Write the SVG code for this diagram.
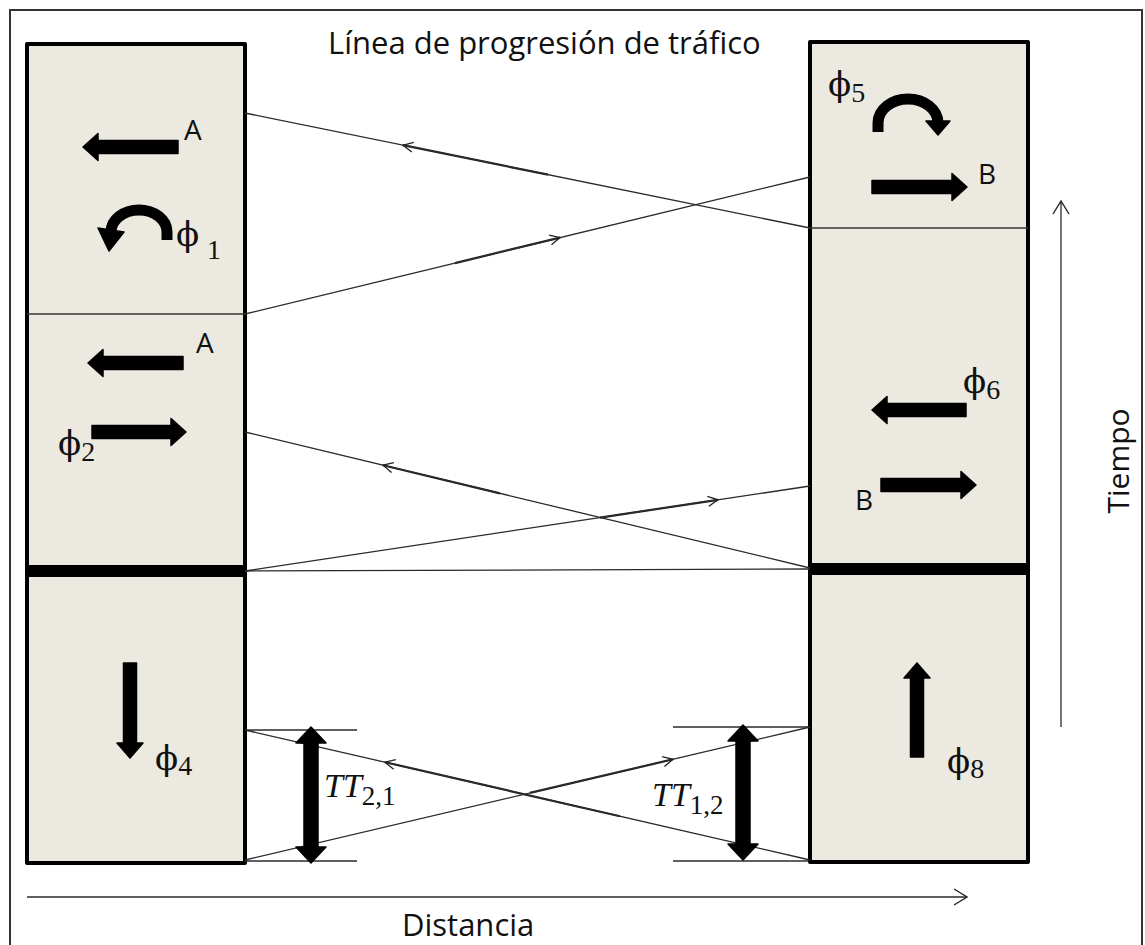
<svg xmlns="http://www.w3.org/2000/svg" width="1145" height="945" viewBox="0 0 1145 945">
  <style>
    .frame { fill: none; stroke: #333; stroke-width: 2; }
    .box { fill: #ECE9E0; stroke: #000; stroke-width: 4; stroke-linejoin: round; }
    .split { stroke: #333; stroke-width: 1.5; }
    .band { stroke: #000; stroke-width: 12; }
    .thin { fill: none; stroke: #2a2a2a; stroke-width: 1.3; }
    .heavy { fill: none; stroke: #2a2a2a; stroke-width: 2.2; }
    .block { fill: #000; stroke: #000; stroke-width: 1.5; stroke-linejoin: round; }
    .turn { fill: none; stroke: #000; stroke-width: 11; }
    .sans { font-family: "Open Sans", "Liberation Sans", sans-serif; fill: #111; }
    .lbl { font-size: 28px; }
    .phi { font-family: "DejaVu Serif", "Liberation Serif", serif; font-size: 34px; fill: #111; }
    .sub { font-family: "Liberation Serif", "DejaVu Serif", serif; font-size: 28px; }
    .tt { font-family: "Liberation Serif", serif; font-style: italic; font-size: 34px; fill: #111; }
    .ttsub { font-style: normal; font-size: 27px; }
  </style>
  <defs>
    <marker id="chev" viewBox="0 0 12 12" refX="11" refY="6" markerWidth="12" markerHeight="12" markerUnits="userSpaceOnUse" orient="auto">
      <path d="M1,1 L11,6 L1,11" fill="none" stroke="#222" stroke-width="1.3"/>
    </marker>
    <marker id="open" viewBox="0 0 16 18" refX="15" refY="9" markerWidth="16" markerHeight="18" markerUnits="userSpaceOnUse" orient="auto">
      <path d="M2,1 L15,9 L2,17" fill="none" stroke="#222" stroke-width="1.4"/>
    </marker>
  </defs>

  <!-- outer frame -->
  <rect class="frame" x="10" y="10" width="1132" height="950"/>

  <!-- title -->
  <text class="sans" x="328" y="54" font-size="31">Línea de progresión de tráfico</text>

  <!-- signal 1 (left) -->
  <g id="signal-1">
    <rect class="box" x="27" y="44" width="218" height="527"/>
    <rect class="box" x="27" y="571" width="218" height="292"/>
    <line class="split" x1="27" y1="314" x2="245" y2="314"/>
    <line class="band" x1="25" y1="571" x2="247" y2="571"/>
  </g>

  <g id="phase-1">
    <path class="block" d="M178,140.5 H98 V133.5 L83,147 L98,160.5 V153.5 H178 Z"/>
    <text class="sans lbl" x="184" y="140">A</text>
    <path class="turn" d="M167,240 L167,232 A28,22 0 0 0 111,232"/>
    <path class="block" d="M98,228 L124,232 L109,251 Z"/>
    <text class="phi" x="176" y="246">ϕ<tspan class="sub" x="207" y="259">1</tspan></text>
  </g>

  <g id="phase-2">
    <path class="block" d="M183,356.5 H103 V349.5 L88,363 L103,376.5 V369.5 H183 Z"/>
    <text class="sans lbl" x="196" y="353">A</text>
    <path class="block" d="M92,425.5 H171 V418.5 L186,432 L171,445.5 V438.5 H92 Z"/>
    <text class="phi" x="58" y="455">ϕ<tspan class="sub" y="461">2</tspan></text>
  </g>

  <g id="phase-4">
    <path class="block" d="M123.5,663 V743 H117 L130,758 L143,743 H136.5 V663 Z"/>
    <text class="phi" x="155" y="770">ϕ<tspan class="sub" y="775">4</tspan></text>
  </g>

  <!-- signal 2 (right) -->
  <g id="signal-2">
    <rect class="box" x="810" y="42" width="218" height="527"/>
    <rect class="box" x="810" y="569" width="218" height="293"/>
    <line class="split" x1="810" y1="228" x2="1028" y2="228"/>
    <line class="band" x1="808" y1="569" x2="1030" y2="569"/>
  </g>

  <g id="phase-5">
    <text class="phi" x="828" y="96">ϕ<tspan class="sub" y="102">5</tspan></text>
    <path class="turn" d="M878,132 L878,123 A30,24 0 0 1 938,123"/>
    <path class="block" d="M926,121 L950,121 L938,135 Z"/>
    <path class="block" d="M872,180.5 H952 V173.5 L967,187 L952,200.5 V193.5 H872 Z"/>
    <text class="sans lbl" x="978" y="184">B</text>
  </g>

  <g id="phase-6">
    <text class="phi" x="963" y="393">ϕ<tspan class="sub" y="399">6</tspan></text>
    <path class="block" d="M966,403.5 H887 V396.5 L872,410 L887,423.5 V416.5 H966 Z"/>
    <path class="block" d="M881,478.5 H961 V471.5 L976,485 L961,498.5 V491.5 H881 Z"/>
    <text class="sans lbl" x="855" y="510">B</text>
  </g>

  <g id="phase-8">
    <path class="block" d="M910.5,757 V678 H904 L917,663 L930,678 H923.5 V757 Z"/>
    <text class="phi" x="947" y="773">ϕ<tspan class="sub" y="778">8</tspan></text>
  </g>

  <!-- vehicle trajectories between the two signals -->
  <g id="connectors">
    <line class="thin" x1="245" y1="113" x2="810" y2="228"/>
    <path class="heavy" d="M548,174.7 L403,145.2" marker-end="url(#chev)"/>
    <line class="thin" x1="245" y1="314" x2="810" y2="177"/>
    <path class="heavy" d="M455,263.1 L560,237.6" marker-end="url(#chev)"/>
    <line class="thin" x1="245" y1="432" x2="810" y2="568"/>
    <path class="heavy" d="M500,493.4 L383,465.2" marker-end="url(#chev)"/>
    <line class="thin" x1="245" y1="571" x2="810" y2="486"/>
    <path class="heavy" d="M600,517.6 L718,499.8" marker-end="url(#chev)"/>
    <line class="thin" x1="245" y1="571" x2="810" y2="569"/>
    <line class="thin" x1="245" y1="730" x2="810" y2="860"/>
    <path class="heavy" d="M620,816.3 L385,762.2" marker-end="url(#chev)"/>
    <line class="thin" x1="245" y1="860" x2="810" y2="727"/>
    <path class="heavy" d="M530,792.9 L673,759.3" marker-end="url(#chev)"/>
  </g>

  <!-- travel time markers -->
  <g id="travel-time-21">
    <line class="thin" x1="245" y1="730" x2="357" y2="730"/>
    <line class="thin" x1="245" y1="861" x2="357" y2="861"/>
    <path class="block" d="M311,727 L326,743 H318 V847 H326 L311,863 L296,847 H304 V743 H296 Z"/>
    <text class="tt" x="324" y="797">TT<tspan class="ttsub" y="805">2,1</tspan></text>
  </g>
  <g id="travel-time-12">
    <line class="thin" x1="673" y1="727" x2="808" y2="727"/>
    <line class="thin" x1="673" y1="861" x2="808" y2="861"/>
    <path class="block" d="M743,725 L758,741 H750 V844 H758 L743,860 L728,844 H736 V741 H728 Z"/>
    <text class="tt" x="652" y="806">TT<tspan class="ttsub" y="814">1,2</tspan></text>
  </g>

  <!-- axes -->
  <g id="axis-time">
    <line class="thin" x1="1061" y1="727" x2="1061" y2="201" marker-end="url(#open)"/>
    <text class="sans" font-size="30" text-anchor="middle" transform="translate(1129,461) rotate(-90)">Tiempo</text>
  </g>
  <g id="axis-distance">
    <line class="thin" x1="27" y1="897" x2="967" y2="897" marker-end="url(#open)"/>
    <text class="sans" x="402" y="936" font-size="31">Distancia</text>
  </g>
</svg>
